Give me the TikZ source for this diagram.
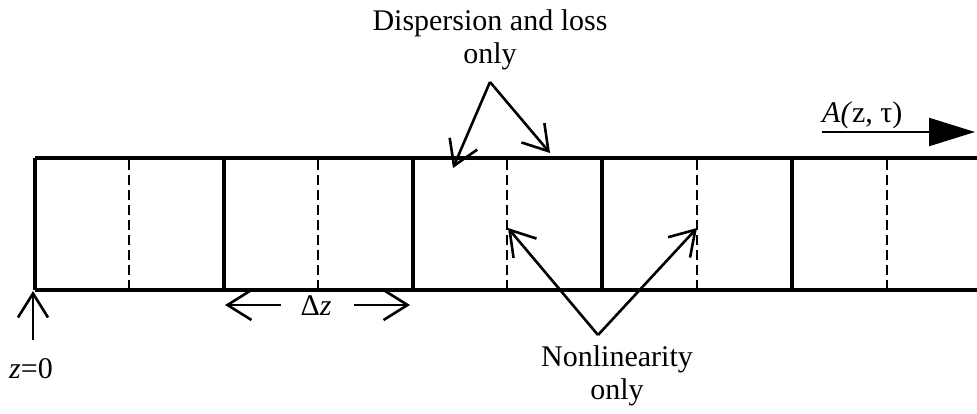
\documentclass[tikz,border=0pt]{standalone}
\usepackage{fontspec}
\setmainfont{Liberation Serif}
\usetikzlibrary{arrows.meta}
\begin{document}
\begin{tikzpicture}[x=1pt,y=-1pt,
  solidline/.style={line width=3.2pt},
  dashline/.style={line width=2.6pt, dash pattern=on 10pt off 5pt},
  barb/.style={line width=2.6pt,-{Straight Barb[length=24pt,width=30pt,line width=2.6pt]}},
  lbl/.style={font=\fontsize{30}{33}\selectfont, align=center, inner sep=0pt}]
\useasboundingbox (0,0) rectangle (977,414);
% waveguide lines
\coordinate (tl) at (35,158);
\coordinate (tr) at (977,158);
\coordinate (bl) at (35,290);
\coordinate (br) at (977,290);
\draw[solidline] (tl) -- (tr);
\draw[solidline] (bl) -- (br);
\foreach \x in {35,224,413,602,792} \draw[solidline] (\x,158) -- (\x,290);
\foreach \x in {129,318,507,697,887} \draw[dashline] (\x,160) -- (\x,290);
% labels
\node[lbl] (disp) at (490,40) {Dispersion and loss\\only};
\node[lbl] (nonl) at (617,376) {Nonlinearity\\only};
\node[lbl, anchor=base west] (amp) at (822,123) {\textit{A(}z, τ)};
\node[lbl] (dz) at (316,306) {Δ\textit{z}};
\node[lbl] (z0) at (31,369) {\textit{z}=0};
% dispersion arrows
\coordinate (dapex) at (490,82);
\coordinate (dl) at (453,168);
\coordinate (dr) at (550,153);
\draw[barb] (dapex) -- (dl);
\draw[barb] (dapex) -- (dr);
% nonlinearity arrows
\coordinate (napex) at (598,335);
\coordinate (nl) at (508,228);
\coordinate (nr) at (697,228);
\draw[barb] (napex) -- (nl);
\draw[barb] (napex) -- (nr);
% z=0 arrow
\coordinate (zs) at (33,340);
\coordinate (zt) at (33,291);
\draw[barb] (zs) -- (zt);
% delta z arrows
\coordinate (dzl0) at (281,305);
\coordinate (dzl1) at (225,305);
\coordinate (dzr0) at (354,305);
\coordinate (dzr1) at (410,305);
\draw[barb] (dzl0) -- (dzl1);
\draw[barb] (dzr0) -- (dzr1);
% propagation arrow
\coordinate (as) at (822,132);
\coordinate (ae) at (975,132);
\draw[line width=2.4pt,-{Triangle[length=46pt,width=28pt]}] (as) -- (ae);
\end{tikzpicture}
\end{document}
